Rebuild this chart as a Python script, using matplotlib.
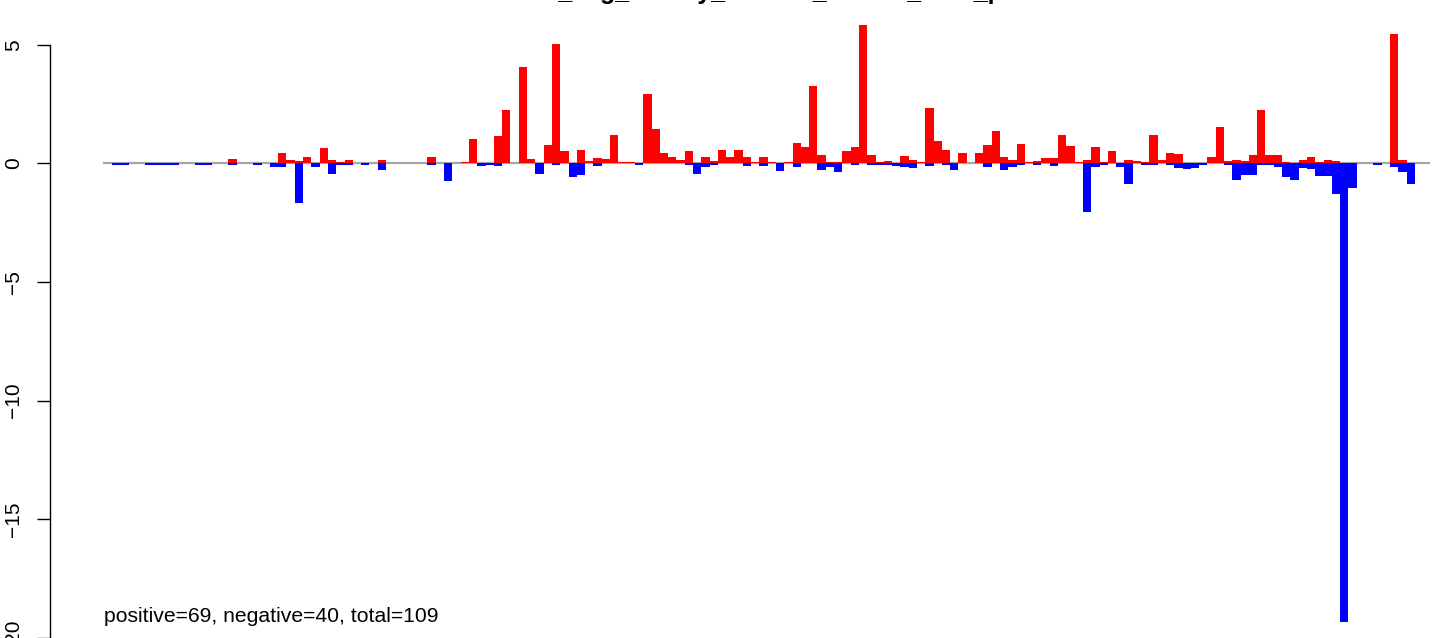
# bar chart of signed values: red for positive part, blue for negative part
import numpy as np
import matplotlib
matplotlib.use("Agg")
import matplotlib.pyplot as plt

plt.rcParams["font.family"] = ["Liberation Sans", "DejaVu Sans"]

# ── data ──────────────────────────────────────────────────────────────────────
title_text = "mean_avg_weekly_volume_shares_total_plot"
note_text = "positive=69, negative=40, total=109"

pos_vals = [
    0, 0, 0, 0, 0, 0, 0, 0, 0, 0,
    0, 0, 0, 0, 0.18, 0, 0, 0, 0, 0,
    0.44, 0.14, 0.10, 0.27, 0, 0.65, 0.14, 0.06, 0.14, 0,
    0, 0, 0.14, 0, 0, 0.03, 0.03, 0, 0.27, 0,
    0, 0, 0.06, 1.03, 0.03, 0, 1.15, 2.25, 0, 4.06,
    0.18, 0, 0.77, 5.03, 0.52, 0, 0.56, 0.10, 0.23, 0.18,
    1.20, 0.06, 0.06, 0, 2.93, 1.45, 0.44, 0.27, 0.14, 0.52,
    0, 0.27, 0.10, 0.56, 0.27, 0.56, 0.27, 0.06, 0.27, 0.06,
    0, 0.06, 0.86, 0.69, 3.26, 0.35, 0.06, 0.06, 0.52, 0.69,
    5.84, 0.35, 0.06, 0.10, 0, 0.31, 0.14, 0.06, 2.34, 0.94,
    0.56, 0, 0.44, 0.02, 0.44, 0.77, 1.36, 0.27, 0.14, 0.82,
    0.06, 0.10, 0.23, 0.23, 1.20, 0.73, 0.06, 0.14, 0.69, 0.06,
    0.52, 0, 0.14, 0.10, 0.06, 1.20, 0.14, 0.44, 0.39, 0.02,
    0.02, 0, 0.27, 1.53, 0.10, 0.14, 0.10, 0.35, 2.25, 0.35,
    0.35, 0.06, 0, 0.14, 0.27, 0.06, 0.14, 0.10, 0, 0,
    0, 0, 0, 0, 5.46, 0.14, 0,
]

neg_vals = [
    -0.05, -0.05, 0, 0, -0.07, -0.05, -0.05, -0.05, 0, 0,
    -0.05, -0.05, 0, 0, -0.05, 0, 0, -0.05, 0, -0.14,
    -0.14, 0, -1.66, 0, -0.14, 0, -0.43, -0.05, -0.05, 0,
    -0.05, 0, -0.27, 0, 0, 0, 0, 0, -0.05, 0,
    -0.73, 0, 0, 0, -0.10, -0.06, -0.10, 0, 0, 0,
    0, -0.44, 0, -0.07, 0, -0.56, -0.49, 0, -0.10, 0,
    0, 0, 0, -0.07, 0, 0, 0, 0, 0, -0.05,
    -0.45, -0.14, -0.05, 0, 0, 0, -0.11, 0, -0.11, 0,
    -0.32, 0, -0.14, 0, 0, -0.28, -0.14, -0.35, 0, -0.06,
    0, -0.06, -0.06, -0.07, -0.10, -0.14, -0.20, 0, -0.10, 0,
    -0.05, -0.28, 0, 0, 0, -0.14, 0, -0.28, -0.14, -0.06,
    0, -0.05, 0, -0.10, 0, 0, 0, -2.05, -0.14, -0.07,
    0, -0.15, -0.87, 0, -0.07, -0.05, 0, -0.05, -0.20, -0.24,
    -0.20, -0.06, 0, 0, -0.06, -0.70, -0.49, -0.49, -0.05, -0.05,
    -0.15, -0.58, -0.70, -0.20, -0.24, -0.52, -0.52, -1.28, -19.35, -1.03,
    0, 0, -0.06, 0, -0.14, -0.35, -0.85,
]

ytick_vals = [-20, -15, -10, -5, 0, 5]
ytick_labels = ["\u221220", "\u221215", "\u221210", "\u22125", "0", "5"]

C_POS = "#ff0000"
C_NEG = "#0000ff"
C_ZERO = "#a6a6a6"

# ── figure ────────────────────────────────────────────────────────────────────
W, H, DPI = 1444, 638, 100
fig = plt.figure(figsize=(W / DPI, H / DPI), dpi=DPI, facecolor="white")

left_px = 50
ax = fig.add_axes([left_px / W, 0, 1 - left_px / W, 1])

n = len(pos_vals)
x = np.arange(n)

# pixel geometry of the bars in the reference
bar0_px, bar_w_px, zero_px, unit_px = 112.2, 8.297, 163.5, 23.7

ax.hlines(0, -1.1, n + 1.8, color=C_ZERO, linewidth=1.6, zorder=1)
ax.bar(x, pos_vals, width=1.0, align="edge", color=C_POS, linewidth=0, zorder=2)
ax.bar(x, neg_vals, width=1.0, align="edge", color=C_NEG, linewidth=0, zorder=2)

ax.set_xlim((left_px - bar0_px) / bar_w_px, (W - bar0_px) / bar_w_px)
ax.set_ylim(-(H - zero_px) / unit_px, zero_px / unit_px)

for side in ["top", "right", "bottom"]:
    ax.spines[side].set_visible(False)
ax.spines["left"].set_bounds(min(ytick_vals), max(ytick_vals))
ax.spines["left"].set_linewidth(1.0)
ax.set_xticks([])
ax.set_yticks(ytick_vals)
ax.set_yticklabels(ytick_labels, rotation=90, va="center")
ax.tick_params(axis="y", length=9.4, width=1.0, pad=10, labelsize=15)
ax.patch.set_alpha(0)

ax.text(-1.0, -19.35, note_text, fontsize=15.2, ha="left", va="baseline")

fig.text(763 / W, 1 + 1.0 / H, title_text, fontsize=18, fontweight="bold",
         ha="center", va="baseline")

fig.savefig("out.png", dpi=DPI)
plt.close(fig)
